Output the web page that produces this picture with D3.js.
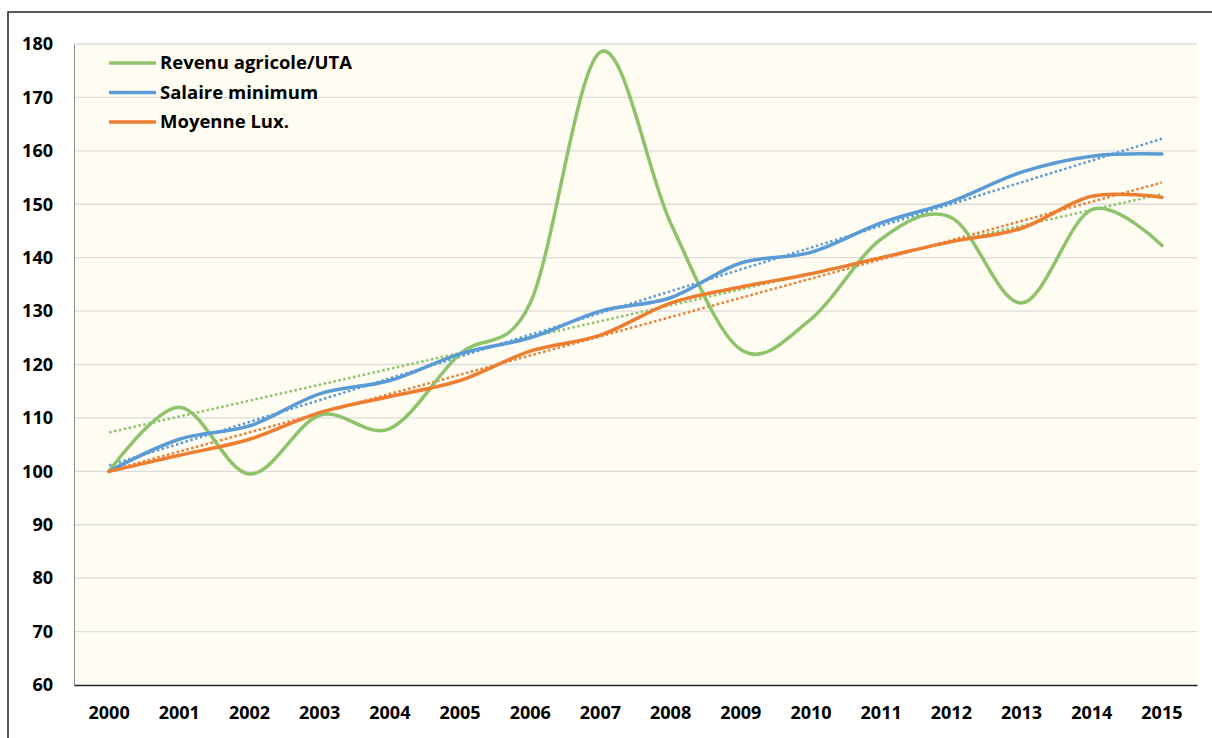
<!DOCTYPE html>
<html>
<head>
<meta charset="utf-8">
<script src="https://cdn.jsdelivr.net/npm/d3@7"></script>
<style>
  body { margin: 0; background: #fff; }
  text { font-family: "Open Sans", Lato, sans-serif; font-weight: bold; fill: #000; }
</style>
</head>
<body>
<div id="chart"></div>
<script>
const years = ["2000","2001","2002","2003","2004","2005","2006","2007","2008","2009","2010","2011","2012","2013","2014","2015"]
const revenuAgricole = [100, 112, 99.5, 110.5, 108, 122, 131.5, 178.5, 146.5, 122.8, 128.5, 143.5, 147.5, 131.5, 149, 142.3]
const salaireMinimum = [100, 106, 108.5, 114.5, 117, 122, 125, 130, 132.5, 139, 141, 146.5, 150.5, 156, 159, 159.4]
const moyenneLux = [100, 103, 106, 111, 114, 117, 122.5, 125.5, 131.5, 134.5, 137, 140, 143, 145.5, 151.5, 151.3]
const yTicks = [60, 70, 80, 90, 100, 110, 120, 130, 140, 150, 160, 170, 180]

const seriesNames = ["Revenu agricole/UTA", "Salaire minimum", "Moyenne Lux."]
const seriesColours = ["#8dc36b", "#5b9bd5", "#ed7d31"]

function drawChart(){
    let width = 1212
    let height = 738
    let margin = {top: 44, bottom: 53, left: 74, right: 15}
    let svg = d3.select("#chart")
        .append("svg")
            .attr("width", width)
            .attr("height", height)

    // outer chart border (cut at the right / bottom)
    svg.append("rect")
        .attr("x", 8).attr("y", 12)
        .attr("width", width + 20).attr("height", height + 20)
        .attr("fill", "none")
        .attr("stroke", "#222")
        .attr("stroke-width", 1.5)

    let x = d3.scaleBand()
        .domain(years)
        .range([margin.left, width - margin.right])
    let y = d3.scaleLinear()
        .domain([60, 180])
        .range([height - margin.bottom, margin.top])

    svg.append("rect")
        .attr("x", margin.left).attr("y", margin.top)
        .attr("width", width - margin.right - margin.left)
        .attr("height", height - margin.bottom - margin.top)
        .attr("fill", "#fffcf2")

    svg.selectAll(".grid")
        .data(yTicks.slice(1))
        .enter()
        .append("line")
            .attr("class", "grid")
            .attr("x1", margin.left).attr("x2", width - margin.right)
            .attr("y1", d => y(d)).attr("y2", d => y(d))
            .attr("stroke", "#dcdcdc")
            .attr("stroke-width", 1.3)

    // y axis
    let yAxis = svg.append("g")
        .attr("transform", `translate(${margin.left},0)`)
        .call(d3.axisLeft(y).tickValues(yTicks).tickSize(0).tickPadding(21))
    yAxis.select(".domain").attr("stroke", "#8c8c8c").attr("stroke-width", 1)
    yAxis.selectAll("text").style("font-size", "18px")

    // x axis
    let xAxis = svg.append("g")
        .attr("transform", `translate(0,${height - margin.bottom})`)
        .call(d3.axisBottom(x).tickSize(0).tickPadding(21))
    xAxis.select(".domain").attr("stroke", "#222").attr("stroke-width", 1.5)
    xAxis.selectAll("text").style("font-size", "18px")

    let allSeries = [revenuAgricole, salaireMinimum, moyenneLux]
    let cx = (d, i) => x(years[i]) + x.bandwidth() / 2

    let line = d3.line()
        .x((d, i) => cx(d, i))
        .y(d => y(d))
        .curve(d3.curveCardinal.tension(0))

    // linear trendlines (least squares on the series)
    allSeries.forEach(function(values, s){
        let n = values.length
        let xs = d3.range(n)
        let mx = d3.mean(xs), my = d3.mean(values)
        let slope = d3.sum(xs, i => (i - mx) * (values[i] - my)) / d3.sum(xs, i => (i - mx) * (i - mx))
        let icpt = my - slope * mx
        svg.append("line")
            .attr("x1", cx(null, 0)).attr("y1", y(icpt))
            .attr("x2", cx(null, n - 1)).attr("y2", y(icpt + slope * (n - 1)))
            .attr("stroke", seriesColours[s])
            .attr("stroke-width", 2.5)
            .attr("stroke-dasharray", "2.5,2.5")
    })

    allSeries.forEach(function(values, s){
        svg.append("path")
            .attr("fill", "none")
            .attr("stroke", seriesColours[s])
            .attr("stroke-width", 3.5)
            .attr("stroke-linecap", "round")
            .attr("d", line(values))
    })

    // legend
    let legend = svg.selectAll(".legend")
        .data(seriesNames)
        .enter()
        .append("g")
            .attr("class", "legend")
            .attr("transform", (d, i) => `translate(109,${63 + i * 29.5})`)
    legend.append("line")
        .attr("x1", 0).attr("x2", 47)
        .attr("stroke", (d, i) => seriesColours[i])
        .attr("stroke-width", 3.5)
    legend.append("text")
        .attr("x", 51)
        .attr("dy", "0.35em")
        .style("font-size", "18.5px")
        .text(d => d)
}
drawChart()
</script>
</body>
</html>
